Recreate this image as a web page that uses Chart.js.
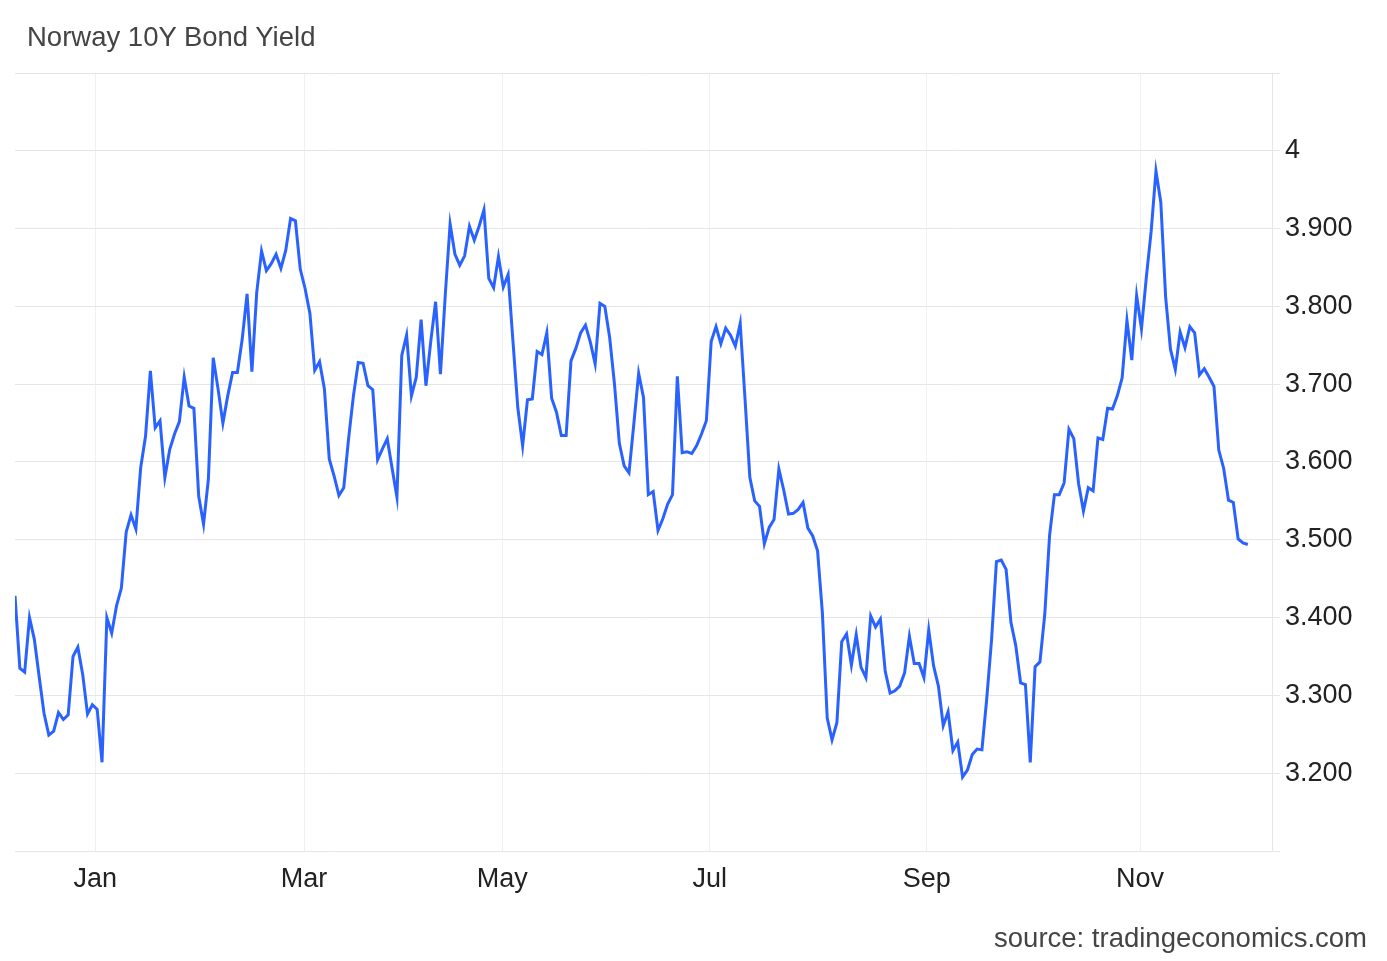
<!DOCTYPE html>
<html>
<head>
<meta charset="utf-8">
<title>Norway 10Y Bond Yield</title>
<script src="https://cdn.jsdelivr.net/npm/chart.js@4.4.1/dist/chart.umd.min.js"></script>
<style>
    html, body { margin: 0; padding: 0; background: #fff; }
    #wrap { position: relative; width: 1387px; height: 961px; }
    #title {
        position: absolute; left: 27px; top: 21px;
        font-family: "Liberation Sans", Arial, sans-serif;
        font-size: 27.5px; color: #444;
    }
    #source {
        position: absolute; right: 20px; top: 922px;
        font-family: "Liberation Sans", Arial, sans-serif;
        font-size: 27.5px; color: #444;
    }
    #chartBox { position: absolute; left: 0; top: 0; width: 1387px; height: 961px; }
</style>
</head>
<body>
<div id="wrap">
    <div id="chartBox"><canvas id="yieldChart"></canvas></div>
    <div id="title">Norway 10Y Bond Yield</div>
    <div id="source">source: tradingeconomics.com</div>
</div>
<script>
// daily closes, one per trading day
const yieldValues = [
    3.428, 3.335, 3.330, 3.400, 3.372, 3.324, 3.277, 3.249, 3.254, 3.278,
    3.269, 3.275, 3.350, 3.362, 3.327, 3.276, 3.288, 3.282, 3.214, 3.400,
    3.380, 3.415, 3.438, 3.510, 3.532, 3.514, 3.593, 3.633, 3.717, 3.644,
    3.653, 3.580, 3.616, 3.636, 3.652, 3.709, 3.672, 3.669, 3.556, 3.520,
    3.578, 3.734, 3.694, 3.650, 3.685, 3.715, 3.715, 3.758, 3.816, 3.716,
    3.818, 3.871, 3.846, 3.855, 3.867, 3.849, 3.872, 3.913, 3.910, 3.848,
    3.823, 3.791, 3.718, 3.729, 3.694, 3.604, 3.582, 3.557, 3.567, 3.630,
    3.685, 3.728, 3.727, 3.698, 3.693, 3.603, 3.617, 3.630, 3.592, 3.555,
    3.737, 3.763, 3.685, 3.709, 3.783, 3.698, 3.755, 3.806, 3.713, 3.815,
    3.906, 3.867, 3.853, 3.865, 3.903, 3.885, 3.903, 3.924, 3.836, 3.824,
    3.864, 3.825, 3.841, 3.755, 3.670, 3.621, 3.680, 3.681, 3.742, 3.738,
    3.766, 3.682, 3.664, 3.634, 3.634, 3.730, 3.746, 3.766, 3.776, 3.754,
    3.726, 3.804, 3.800, 3.760, 3.700, 3.624, 3.595, 3.586, 3.649, 3.714,
    3.683, 3.558, 3.562, 3.512, 3.527, 3.546, 3.558, 3.710, 3.612, 3.613,
    3.611, 3.621, 3.636, 3.653, 3.755, 3.774, 3.752, 3.772, 3.763, 3.749,
    3.778, 3.681, 3.580, 3.550, 3.543, 3.495, 3.516, 3.526, 3.591, 3.564,
    3.533, 3.534, 3.539, 3.548, 3.515, 3.505, 3.486, 3.406, 3.271, 3.243,
    3.265, 3.369, 3.379, 3.339, 3.378, 3.336, 3.323, 3.402, 3.388, 3.398,
    3.331, 3.303, 3.306, 3.312, 3.329, 3.376, 3.341, 3.341, 3.323, 3.384,
    3.338, 3.312, 3.261, 3.279, 3.229, 3.240, 3.195, 3.204, 3.224, 3.231,
    3.230, 3.296, 3.372, 3.472, 3.474, 3.462, 3.394, 3.364, 3.316, 3.314,
    3.214, 3.337, 3.343, 3.404, 3.506, 3.558, 3.558, 3.573, 3.642, 3.630,
    3.572, 3.537, 3.567, 3.563, 3.631, 3.629, 3.669, 3.668, 3.685, 3.708,
    3.782, 3.731, 3.814, 3.771, 3.837, 3.896, 3.974, 3.934, 3.812, 3.745,
    3.719, 3.767, 3.747, 3.774, 3.766, 3.712, 3.720, 3.709, 3.697, 3.615,
    3.592, 3.551, 3.548, 3.501, 3.496, 3.494
];

// month labels and where they fall on the trading-day index
const monthLabels = ['Jan', 'Mar', 'May', 'Jul', 'Sep', 'Nov'];
const monthPositions = [16.6, 59.8, 100.8, 143.7, 188.6, 232.7];

// horizontal grid lines and their labels
const yGridValues = [3.1, 3.2, 3.3, 3.4, 3.5, 3.6, 3.7, 3.8, 3.9, 4.0, 4.1];
const yTickLabels = ['', '3.200', '3.300', '3.400', '3.500', '3.600', '3.700', '3.800', '3.900', '4', ''];

const points = yieldValues.map((v, i) => ({ x: i, y: v }));

const ctx = document.getElementById('yieldChart').getContext('2d');

new Chart(ctx, {
    type: 'line',
    data: {
        datasets: [{
            label: 'Norway 10Y',
            data: points,
            borderColor: '#2962ff',
            borderWidth: 3,
            pointRadius: 0,
            tension: 0,
            fill: false
        }]
    },
    options: {
        responsive: true,
        maintainAspectRatio: false,
        animation: false,
        layout: { padding: { left: 15, top: 73, right: 0, bottom: 0 } },
        plugins: {
            legend: { display: false },
            tooltip: { enabled: false }
        },
        scales: {
            x: {
                type: 'linear',
                min: 0,
                max: 260,
                afterBuildTicks: (scale) => {
                    scale.ticks = monthPositions.map(v => ({ value: v }));
                },
                afterFit: (scale) => { scale.height = 110; },
                ticks: {
                    autoSkip: false,
                    maxRotation: 0,
                    padding: 12,
                    color: '#222',
                    font: { family: '"Liberation Sans", Arial, sans-serif', size: 27 },
                    callback: (value, index) => monthLabels[index]
                },
                grid: { color: '#edf1f5', drawTicks: false },
                border: { display: true, color: '#e6e6e6' }
            },
            y: {
                position: 'right',
                min: 3.1,
                max: 4.1,
                afterBuildTicks: (scale) => {
                    scale.ticks = yGridValues.map(v => ({ value: v }));
                },
                afterFit: (scale) => { scale.width = 115; },
                ticks: {
                    padding: 5,
                    color: '#222',
                    font: { family: '"Liberation Sans", Arial, sans-serif', size: 27 },
                    callback: (value, index) => yTickLabels[index]
                },
                grid: { color: '#e6e6e6', drawTicks: true, tickLength: 8 },
                border: { display: true, color: '#e6e6e6' }
            }
        }
    }
});
</script>
</body>
</html>
